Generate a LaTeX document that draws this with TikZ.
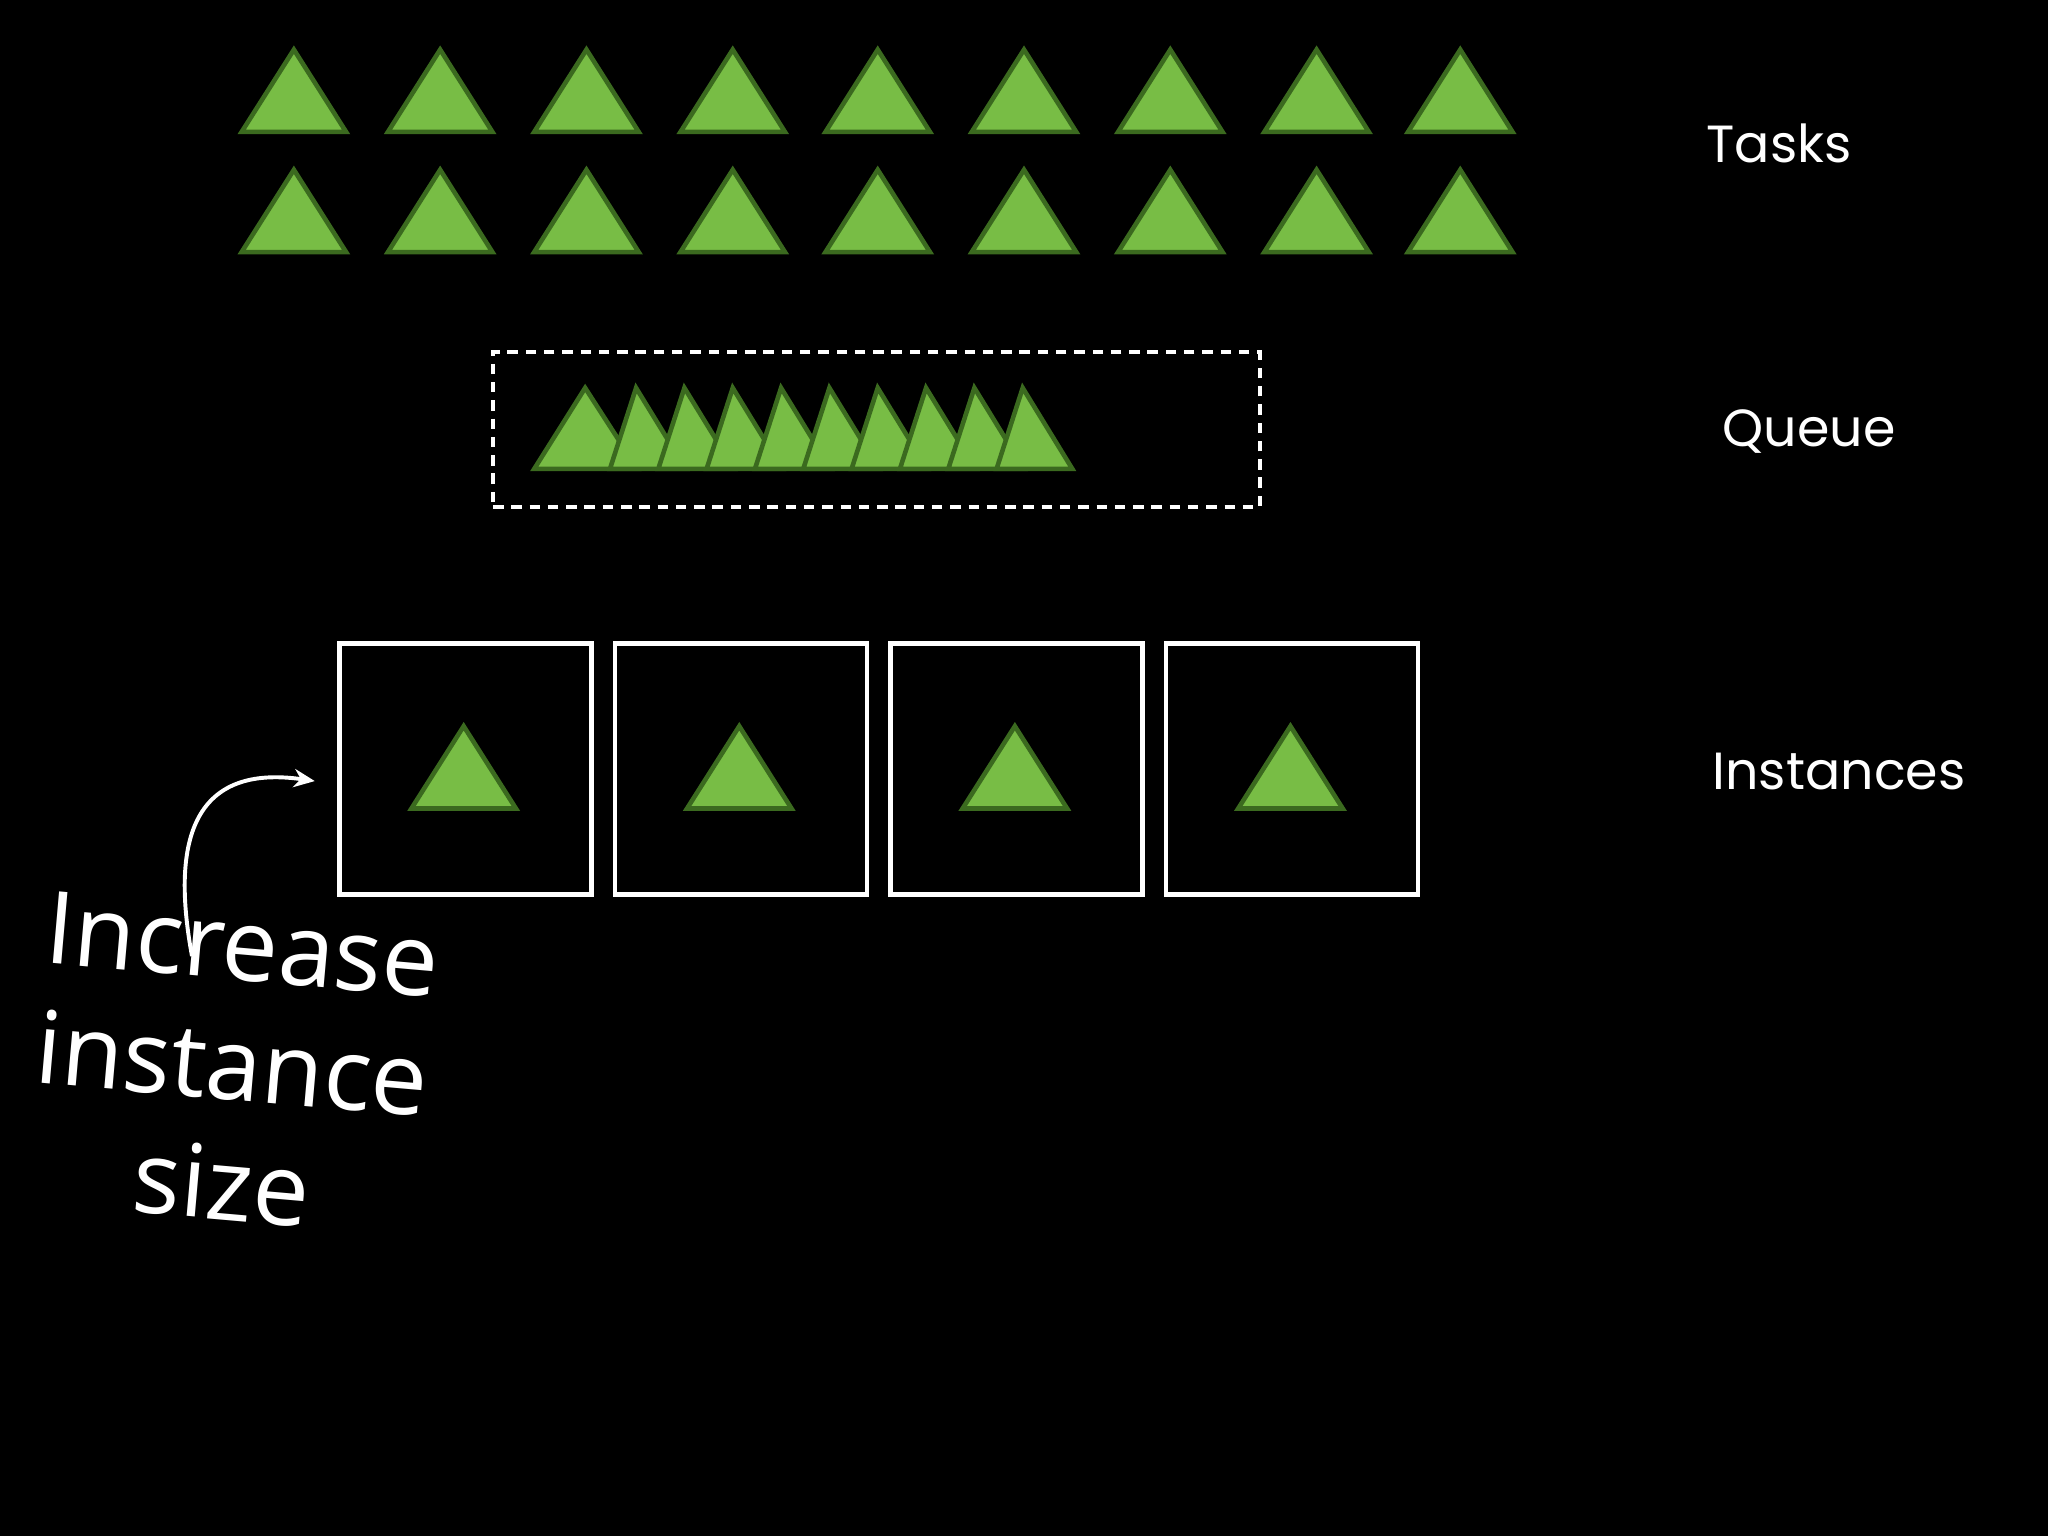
\documentclass[tikz,border=0pt]{standalone}
\usepackage{fontspec}
\usetikzlibrary{arrows.meta}
\setmainfont{Poppins}
\newfontfamily\handfont{Open Sans}
\definecolor{tfill}{HTML}{78BD45}
\definecolor{tedge}{HTML}{3B6A1F}
\begin{document}
\begin{tikzpicture}[x=1pt,y=-1pt,
  tri/.style={fill=tfill,draw=tedge,line width=3.5pt,line join=miter},
  lbl/.style={text=white,font=\fontsize{40}{44}\selectfont},
  box/.style={draw=white,line width=3.5pt}]
\fill[black] (0,0) rectangle (1568,1176);
\useasboundingbox (0,0) rectangle (1568,1176);
\foreach \x in {225,337,449,561,672,784,896,1008,1118}{
  \draw[tri] (\x-40,101) -- (\x,38) -- (\x+40,101) -- cycle;
  \draw[tri] (\x-40,193) -- (\x,130) -- (\x+40,193) -- cycle;
}
\node[draw=white,line width=3pt,dash pattern=on 8pt off 6pt,minimum width=587pt,minimum height=119pt,anchor=north west,inner sep=0] (queue) at (376,268) {};
\draw[tri] (409,359) -- (448,297) -- (488,359) -- cycle;
\foreach \i in {0,...,8}{
  \pgfmathsetmacro\ax{487+37*\i}
  \draw[tri] (\ax-20,359) -- (\ax,297) -- (\ax+38,359) -- cycle;
}
\foreach \x [count=\k] in {258,469,680,891}{
  \node[box,minimum width=193pt,minimum height=192pt,anchor=north west,inner sep=0] (b\k) at (\x,491) {};
  \draw[tri] (\x+57,619) -- (\x+97,556) -- (\x+137,619) -- cycle;
}
\node[lbl] (tasks) at (1362,110) {Tasks};
\node[lbl] (qlbl) at (1385,330) {Queue};
\node[lbl] (ilbl) at (1408,591) {Instances};
\node[text=white,align=center,rotate=-5,font=\handfont\fontsize{77}{92}\selectfont] (inc) at (178,815) {Increase\\instance\\size};
\coordinate (tip) at (241,598);
\draw[white,line width=3pt,-{Stealth[length=16pt,width=14pt]}] (147,732) .. controls (130,640) and (150,585) .. (tip);
\end{tikzpicture}
\end{document}
